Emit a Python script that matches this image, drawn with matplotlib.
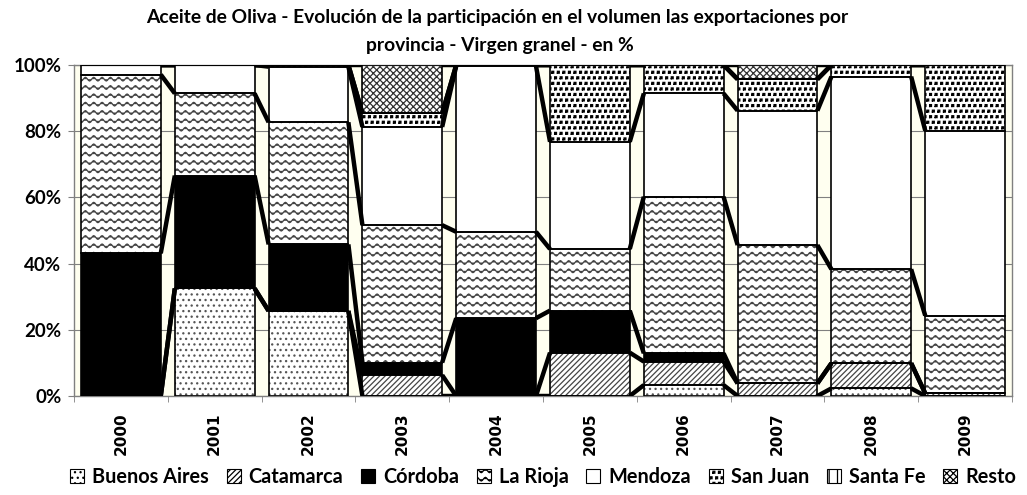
import numpy as np
import matplotlib
matplotlib.use("Agg")
import matplotlib.pyplot as plt
import matplotlib.hatch as mhatch
from matplotlib.path import Path
from matplotlib.patches import Patch

# ---------------- data ----------------
years = ["2000", "2001", "2002", "2003", "2004", "2005", "2006", "2007", "2008", "2009"]
series_names = ["Buenos Aires", "Catamarca", "Córdoba", "La Rioja", "Mendoza",
                "San Juan", "Santa Fe", "Resto"]
buenos_aires = [0.0, 32.5, 25.7, 0.0, 0.0, 0.0, 3.3, 0.0, 2.3, 0.0]
catamarca    = [0.0, 0.0, 0.0, 6.3, 0.0, 13.1, 7.1, 3.8, 7.6, 0.8]
cordoba      = [43.1, 34.1, 20.1, 3.8, 23.5, 12.7, 2.5, 0.0, 0.0, 0.0]
la_rioja     = [54.0, 24.8, 36.9, 41.5, 26.1, 18.6, 47.3, 41.8, 28.4, 23.5]
mendoza      = [2.9, 8.6, 16.8, 29.7, 50.1, 32.4, 31.2, 40.6, 58.2, 55.9]
san_juan     = [0.0, 0.0, 0.5, 4.1, 0.3, 23.2, 8.6, 9.5, 3.5, 19.8]
santa_fe     = [0.0, 0.0, 0.0, 0.0, 0.0, 0.0, 0.0, 0.0, 0.0, 0.0]
resto        = [0.0, 0.0, 0.0, 14.6, 0.0, 0.0, 0.0, 4.3, 0.0, 0.0]
y_ticks = [0, 20, 40, 60, 80, 100]
y_tick_labels = ["0%", "20%", "40%", "60%", "80%", "100%"]
title_lines = ["Aceite de Oliva - Evolución de la participación en el volumen las exportaciones por",
               "provincia - Virgen granel - en %"]

values = [buenos_aires, catamarca, cordoba, la_rioja, mendoza, san_juan, santa_fe, resto]

# ---------------- custom hatches ----------------
class WaveHatch(mhatch.HatchPatternBase):
    """Wavy horizontal lines, used for the '-' hatch character."""
    def __init__(self, hatch, density):
        self.num_lines = int(hatch.count('-') * density)
        self.npts = self.num_lines * 8 + 1
        self.num_vertices = self.num_lines * self.npts

    def set_vertices_and_codes(self, vertices, codes):
        steps, stepsize = np.linspace(0.0, 1.0, self.num_lines, False, retstep=True)
        steps += stepsize / 2.
        xs = np.linspace(0.0, 1.0, self.npts)
        amp = stepsize * 0.22
        for k, y0 in enumerate(steps):
            s = k * self.npts
            vertices[s:s + self.npts, 0] = xs
            vertices[s:s + self.npts, 1] = y0 + amp * np.sin(2 * np.pi * self.num_lines * xs)
            codes[s:s + self.npts] = Path.LINETO
            codes[s] = Path.MOVETO


class SquareDots(mhatch.Shapes):
    """Small filled squares, used for the '*' hatch character."""
    size = 0.17
    filled = True

    def __init__(self, hatch, density):
        self.num_rows = hatch.count('*') * density
        self.shape_vertices = np.array([[-1., -1.], [1., -1.], [1., 1.], [-1., 1.], [-1., -1.]])
        self.shape_codes = np.full(5, Path.LINETO, dtype=Path.code_type)
        self.shape_codes[0] = Path.MOVETO
        super().__init__(hatch, density)


mhatch._hatch_types[:] = [WaveHatch if t is mhatch.HorizontalHatch else
                          SquareDots if t is mhatch.Stars else t
                          for t in mhatch._hatch_types]
plt.rcParams['hatch.linewidth'] = 0.9

# styles: (facecolor, hatch, hatch colour)
styles = [
    ("white", "...", "#555555"),
    ("white", "//////", "#444444"),
    ("black", None, "black"),
    ("white", "--", "#444444"),
    ("white", None, "black"),
    ("white", "***", "black"),
    ("white", "||", "black"),
    ("white", "xxxxx", "#333333"),
]

LAT = "Lato"
fig = plt.figure(figsize=(10.27, 4.95), dpi=100)
ax = fig.add_axes([74 / 1027, 1 - 396 / 495, (1012 - 74) / 1027, (396 - 65) / 495])
ax.set_facecolor("#FFFFF0")

x = np.arange(len(years))
w = 0.85
bottom = np.zeros(len(years))
for vals, (fc, hatch, hc) in zip(values, styles):
    v = np.array(vals)
    ax.bar(x, v, w, bottom=bottom, facecolor=fc, edgecolor=hc, hatch=hatch,
           linewidth=0, zorder=2)
    ax.bar(x, v, w, bottom=bottom, fill=False, edgecolor="black", linewidth=1.2, zorder=3)
    top = bottom + v
    for i in range(len(years) - 1):
        ax.plot([x[i] + w / 2, x[i + 1] - w / 2], [top[i], top[i + 1]],
                color="black", lw=3.2, solid_capstyle="butt", zorder=4)
    bottom = top

ax.set_xlim(-0.5, len(years) - 0.5)
ax.set_ylim(0, 100)
ax.set_axisbelow(True)
ax.yaxis.grid(True, color="#808080", lw=0.8)
for sp in ax.spines.values():
    sp.set_color("#808080")
    sp.set_linewidth(1.0)

ax.set_yticks(y_ticks)
ax.set_yticklabels(y_tick_labels, fontfamily=LAT, fontweight="bold", fontsize=13.5)
ax.tick_params(axis="y", length=4, color="#808080", pad=5)

ax.set_xticks(x)
ax.set_xticklabels(years, rotation=90, fontfamily="DejaVu Sans", fontweight="bold",
                   fontsize=11, va="top", ha="center")
ax.tick_params(axis="x", which="major", length=0, pad=12)
ax.set_xticks(np.arange(-0.5, len(years), 1.0), minor=True)
ax.tick_params(axis="x", which="minor", length=4, color="#808080")

fig.text(497 / 1027, 1 - 18 / 495, title_lines[0], ha="center", va="center",
         fontfamily=LAT, fontweight="bold", fontsize=13.9)
fig.text(500 / 1027, 1 - 45 / 495, title_lines[1], ha="center", va="center",
         fontfamily=LAT, fontweight="bold", fontsize=13.9)

handles = [Patch(facecolor=fc, edgecolor="black", hatch=h, linewidth=0.8)
           for (fc, h, hc) in styles]
fig.legend(handles, series_names, loc="center", bbox_to_anchor=(543 / 1027, 1 - 477 / 495),
           ncol=8, frameon=False, prop={"family": LAT, "weight": "bold", "size": 14.3},
           handlelength=0.7, handleheight=0.7, handletextpad=0.4, columnspacing=0.9,
           borderpad=0, borderaxespad=0)

fig.savefig("out.png", dpi=100)
